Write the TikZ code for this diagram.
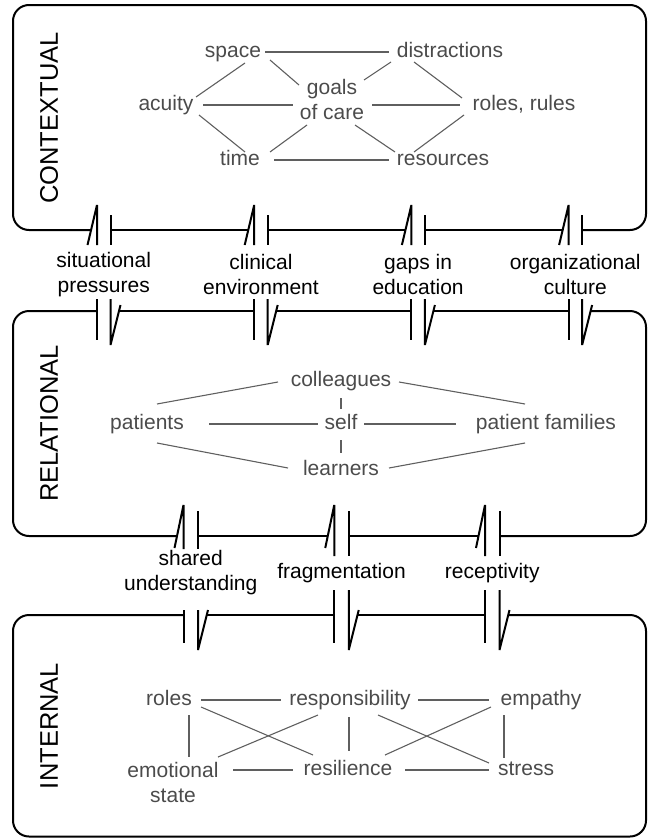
\documentclass[tikz,border=0pt]{standalone}
\usepackage{fontspec}
\setmainfont{Liberation Sans}
\definecolor{txtgray}{RGB}{75,75,75}
\definecolor{edgegray}{RGB}{95,95,95}
\begin{document}
\begin{tikzpicture}[x=1pt,y=-1pt,
  nd/.style={text=txtgray,font=\fontsize{21}{25}\selectfont,inner sep=0pt,text height=15pt,text depth=4.5pt},
  ndd/.style={text=txtgray,font=\fontsize{21}{25}\selectfont,inner sep=0pt,align=center},
  lab/.style={text=black,font=\fontsize{21}{25}\selectfont,inner sep=0pt,align=center},
  ttl/.style={font=\fontsize{25.5}{30}\selectfont,rotate=90,inner sep=0pt},
  ed/.style={draw=edgegray,line width=1.1pt},
  bx/.style={draw=black,line width=2pt,rounded corners=16pt},
  brk/.style={draw=black,line width=2pt,line join=bevel}]
\useasboundingbox (0,0) rectangle (651,838);

% ---------- box 1 (contextual) ----------
\draw[bx] (91.06,230) -- (13,230) -- (13,5) -- (646,5) -- (646,230) -- (582.1,230);
\foreach \a/\b in {97/254.2, 254.2/411.4, 411.4/568.6}
  \draw[brk] (\a+13.5,230) -- (\b-5.94,230);
\foreach \a in {97,254.2,411.4,568.6}{
  \draw[brk] (\a-9.5,245) -- (\a,205) -- (\a,245);
  \draw[brk] (\a+13.5,215) -- (\a+13.5,245);
  \draw[brk] (\a,299) -- (\a,340);
  \draw[brk] (\a+13.5,299) -- (\a+13.5,345) -- (\a+23.5,305);
}

% ---------- box 2 (relational) ----------
\draw[bx] (590.6,311) -- (646,311) -- (646,536) -- (499.5,536);
\draw[bx] (177,536) -- (13,536) -- (13,311) -- (97,311);
\foreach \a/\b in {97/254.2, 254.2/411.4, 411.4/568.6}
  \draw[brk] (\a+22,311) -- (\b,311);
\foreach \a/\b in {183.5/334.25, 334.25/485}
  \draw[brk] (\a+14.5,536) -- (\b-6.5,536);
\foreach \b/\e/\s in {183.5/549/610, 334.25/556/590, 485/556/590}{
  \draw[brk] (\b-9,548) -- (\b,505) -- (\b,\e);
  \draw[brk] (\b+14.5,511) -- (\b+14.5,\e);
  \draw[brk] (\b,\s) -- (\b,643);
  \draw[brk] (\b+14.5,\s) -- (\b+14.5,650) -- (\b+24.5,610);
}

% ---------- box 3 (internal) ----------
\draw[bx] (508.25,615) -- (646,615) -- (646,836.5) -- (13,836.5) -- (13,615) -- (183.5,615);
\foreach \a/\b in {183.5/334.25, 334.25/485}
  \draw[brk] (\a+23.25,615) -- (\b,615);

% ---------- titles ----------
\node[ttl] (t1) at (49,118) {CONTEXTUAL};
\node[ttl] (t2) at (49,423.5) {RELATIONAL};
\node[ttl] (t3) at (49,726) {INTERNAL};

% ---------- labels between boxes ----------
\node[lab] (l1) at (103.75,274.5) {situational\\pressures};
\node[lab] (l2) at (261,274.5) {clinical\\environment};
\node[lab] (l3) at (418.1,274.5) {gaps in\\education};
\node[lab] (l4) at (575.3,274.5) {organizational\\culture};
\node[lab] (l5) at (190.75,572.5) {shared\\understanding};
\node[lab] (l6) at (341.5,573) {fragmentation};
\node[lab] (l7) at (492.25,573) {receptivity};

% ---------- contextual nodes ----------
\node[nd] (space) at (233,52) {space};
\node[nd] (distr) at (450,52) {distractions};
\node[ndd] (goals) at (332,99.5) {goals\\of care};
\node[nd] (acuity) at (166,105) {acuity};
\node[nd] (croles) at (524,105) {roles, rules};
\node[nd] (time) at (240,160) {time};
\node[nd] (resources) at (443,160) {resources};

\draw[ed] ([shift={(32,0)}]space.center) -- ([shift={(-61,0)}]distr.center);
\draw[ed] ([shift={(12,11)}]space.center) -- ([shift={(30,-8)}]acuity.center);
\draw[ed] ([shift={(37,8)}]space.center) -- ([shift={(-33,-14.5)}]goals.center);
\draw[ed] ([shift={(-59,10)}]distr.center) -- ([shift={(32,-19.5)}]goals.center);
\draw[ed] ([shift={(-36,10)}]distr.center) -- ([shift={(-62,-7)}]croles.center);
\draw[ed] ([shift={(37,0)}]acuity.center) -- ([shift={(-39,5.5)}]goals.center);
\draw[ed] ([shift={(40,5.5)}]goals.center) -- ([shift={(-64,0)}]croles.center);
\draw[ed] ([shift={(33,10)}]acuity.center) -- ([shift={(5,-8)}]time.center);
\draw[ed] ([shift={(30,-8)}]time.center) -- ([shift={(-25,25.5)}]goals.center);
\draw[ed] ([shift={(23,25.5)}]goals.center) -- ([shift={(-48,-8)}]resources.center);
\draw[ed] ([shift={(-60,10)}]croles.center) -- ([shift={(-29,-8)}]resources.center);
\draw[ed] ([shift={(34,0)}]time.center) -- ([shift={(-54,0)}]resources.center);

% ---------- relational nodes ----------
\node[nd] (coll) at (341,381) {colleagues};
\node[nd] (pat) at (147,424) {patients};
\node[nd] (self) at (341,424) {self};
\node[nd] (fam) at (546,424) {patient families};
\node[nd] (learn) at (341,470) {learners};

\draw[ed] ([shift={(-63,1)}]coll.center) -- ([shift={(10,-20)}]pat.center);
\draw[ed] ([shift={(58,1)}]coll.center) -- ([shift={(-21,-20)}]fam.center);
\draw[ed] ([shift={(0,17)}]coll.center) -- ([shift={(0,-15)}]self.center);
\draw[ed] ([shift={(62,0)}]pat.center) -- ([shift={(-23,0)}]self.center);
\draw[ed] ([shift={(23,0)}]self.center) -- ([shift={(-90,0)}]fam.center);
\draw[ed] ([shift={(0,16)}]self.center) -- ([shift={(0,-17)}]learn.center);
\draw[ed] ([shift={(10,19)}]pat.center) -- ([shift={(-53,-2)}]learn.center);
\draw[ed] ([shift={(48,-2)}]learn.center) -- ([shift={(-21,19)}]fam.center);

% ---------- internal nodes ----------
\node[nd] (iroles) at (169,700) {roles};
\node[nd] (resp) at (350,700) {responsibility};
\node[nd] (emp) at (541,700) {empathy};
\node[ndd] (emo) at (173,782.5) {emotional\\state};
\node[nd] (resil) at (348,770) {resilience};
\node[nd] (stress) at (526,770) {stress};

\draw[ed] ([shift={(32,0)}]iroles.center) -- ([shift={(-69,0)}]resp.center);
\draw[ed] ([shift={(68,0)}]resp.center) -- ([shift={(-52,0)}]emp.center);
\draw[ed] ([shift={(20,15)}]iroles.center) -- ([shift={(16,-25.5)}]emo.center);
\draw[ed] ([shift={(32,7)}]iroles.center) -- ([shift={(-35,-15)}]resil.center);
\draw[ed] ([shift={(-32,15)}]resp.center) -- ([shift={(45,-25.5)}]emo.center);
\draw[ed] ([shift={(-1,17)}]resp.center) -- ([shift={(1,-19)}]resil.center);
\draw[ed] ([shift={(28,15)}]resp.center) -- ([shift={(-37,-7)}]stress.center);
\draw[ed] ([shift={(-50,7)}]emp.center) -- ([shift={(37,-15)}]resil.center);
\draw[ed] ([shift={(-37,15)}]emp.center) -- ([shift={(-22,-12)}]stress.center);
\draw[ed] ([shift={(60,-12.5)}]emo.center) -- ([shift={(-55,0)}]resil.center);
\draw[ed] ([shift={(57,0)}]resil.center) -- ([shift={(-37,0)}]stress.center);
\end{tikzpicture}
\end{document}
